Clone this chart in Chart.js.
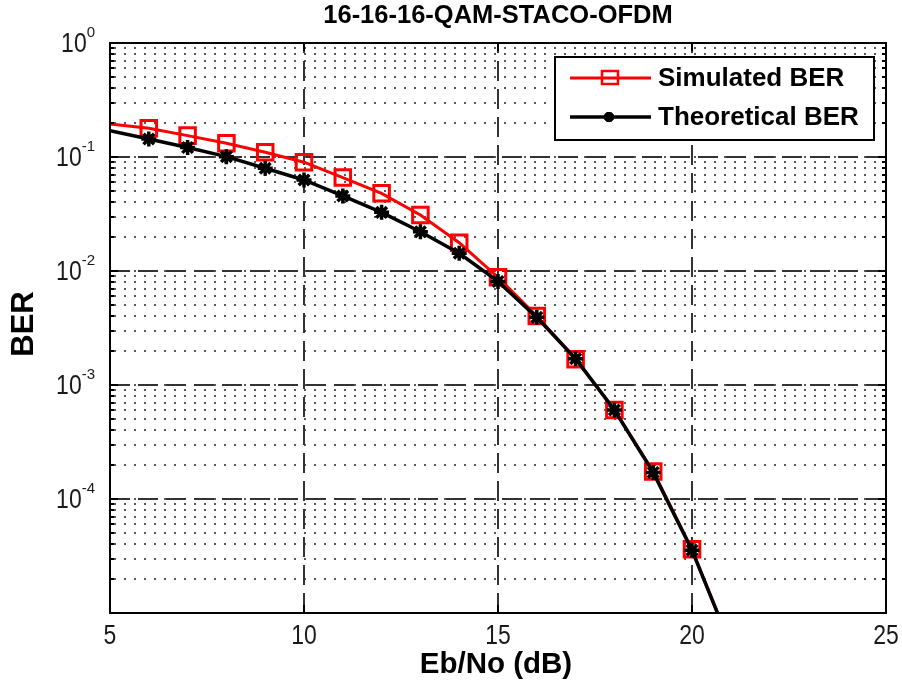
<!DOCTYPE html>
<html>
<head>
<meta charset="utf-8">
<script src="https://cdn.jsdelivr.net/npm/chart.js@4/dist/chart.umd.min.js"></script>
<style>
  html, body { margin: 0; padding: 0; background: #ffffff; }
  #wrap { width: 902px; height: 686px; }
</style>
</head>
<body>
<div id="wrap"><canvas id="c" width="902" height="686"></canvas></div>
<script>
// ---- data ----
const chartTitle = '16-16-16-QAM-STACO-OFDM';
const xLabel = 'Eb/No (dB)';
const yLabel = 'BER';
const seriesNames = ['Simulated BER', 'Theoretical BER'];
const ebNo = [5, 6, 7, 8, 9, 10, 11, 12, 13, 14, 15, 16, 17, 18, 19, 20, 21];
const simulatedBER = [0.195, 0.179, 0.154, 0.132, 0.110, 0.090, 0.066, 0.048, 0.031, 0.0177, 0.0088, 0.00403, 0.00168, 0.000604, 0.000174, 3.62e-5, 5.0e-6];
const theoreticalBER = [0.170, 0.144, 0.121, 0.1007, 0.0796, 0.0629, 0.0455, 0.0327, 0.0221, 0.0143, 0.0081, 0.00392, 0.0017, 0.000604, 0.000171, 3.55e-5, 5.2e-6];
const xTicks = [5, 10, 15, 20, 25];
const yTickExponents = [0, -1, -2, -3, -4];

const FONT = '"Liberation Sans", Arial, Helvetica, sans-serif';

const framePlugin = {
  id: 'matlabFrame',
  beforeDatasetsDraw(chart) {
    const ctx = chart.ctx, a = chart.chartArea;
    const xs = chart.scales.x, ys = chart.scales.y;
    ctx.save();
    ctx.beginPath(); ctx.rect(a.left, a.top, a.right - a.left, a.bottom - a.top); ctx.clip();
    // minor dotted grid (k * 10^n), including decades
    ctx.strokeStyle = 'rgba(70,70,70,0.9)';
    ctx.lineWidth = 2;
    ctx.setLineDash([2, 8]);
    for (let n = -5; n <= -1; n++) {
      for (let k = 1; k <= 9; k++) {
        const v = k * Math.pow(10, n);
        if (v <= ys.min || v >= ys.max) continue;
        const y = Math.round(ys.getPixelForValue(v));
        ctx.beginPath(); ctx.moveTo(a.left + 4, y); ctx.lineTo(a.right, y); ctx.stroke();
      }
    }
    // major dashed grid
    ctx.strokeStyle = '#333333';
    ctx.setLineDash([20, 8]);
    for (const e of yTickExponents) {
      const v = Math.pow(10, e);
      if (v <= ys.min || v >= ys.max) continue;
      const y = Math.round(ys.getPixelForValue(v));
      ctx.beginPath(); ctx.moveTo(a.left, y); ctx.lineTo(a.right, y); ctx.stroke();
    }
    for (const t of xTicks) {
      if (t <= xs.min || t >= xs.max) continue;
      const x = Math.round(xs.getPixelForValue(t));
      ctx.beginPath(); ctx.moveTo(x, a.bottom); ctx.lineTo(x, a.top); ctx.stroke();
    }
    ctx.restore();
  },
  afterDraw(chart) {
    const ctx = chart.ctx, a = chart.chartArea;
    const xs = chart.scales.x, ys = chart.scales.y;
    ctx.save();
    ctx.setLineDash([]);
    // axis box
    ctx.strokeStyle = '#000'; ctx.lineWidth = 2;
    ctx.strokeRect(a.left, a.top, a.right - a.left, a.bottom - a.top);
    // ticks
    ctx.beginPath();
    for (let n = -5; n <= 0; n++) {
      for (let k = 1; k <= 9; k++) {
        const v = k * Math.pow(10, n);
        if (v < ys.min || v > ys.max) continue;
        const y = Math.round(ys.getPixelForValue(v));
        const len = k === 1 ? 8 : 4;
        ctx.moveTo(a.left, y); ctx.lineTo(a.left + len, y);
        ctx.moveTo(a.right, y); ctx.lineTo(a.right - len, y);
      }
    }
    for (const t of xTicks) {
      const x = Math.round(xs.getPixelForValue(t));
      ctx.moveTo(x, a.bottom); ctx.lineTo(x, a.bottom - 8);
      ctx.moveTo(x, a.top); ctx.lineTo(x, a.top + 8);
    }
    ctx.stroke();

    // y tick labels 10^e
    ctx.fillStyle = '#1a1a1a';
    for (const e of yTickExponents) {
      const v = Math.pow(10, e);
      const y = ys.getPixelForValue(v);
      const exp = String(e);
      ctx.font = '15px ' + FONT;
      const ew = ctx.measureText(exp).width;
      const right = a.left - 15;
      ctx.textBaseline = 'middle';
      ctx.textAlign = 'left';
      ctx.fillText(exp, right - ew, y - 10);
      ctx.save();
      ctx.font = '28px ' + FONT;
      const bw = ctx.measureText('10').width * 0.82;
      ctx.translate(right - ew - bw, y + 1);
      ctx.scale(0.82, 1);
      ctx.fillText('10', 0, 0);
      ctx.restore();
    }
    // x tick labels
    ctx.textAlign = 'center'; ctx.textBaseline = 'middle';
    for (const t of xTicks) {
      const x = xs.getPixelForValue(t);
      ctx.save();
      ctx.font = '28px ' + FONT;
      ctx.translate(x, a.bottom + 23);
      ctx.scale(0.82, 1);
      ctx.fillText(String(t), 0, 0);
      ctx.restore();
    }
    // titles
    ctx.fillStyle = '#000';
    ctx.font = 'bold 25.5px ' + FONT;
    ctx.textAlign = 'center'; ctx.textBaseline = 'middle';
    ctx.fillText(chartTitle, (a.left + a.right) / 2, 16);
    ctx.font = 'bold 29.5px ' + FONT;
    ctx.fillText(xLabel, (a.left + a.right) / 2 - 2, 665);
    ctx.save();
    ctx.translate(24, 324);
    ctx.rotate(-Math.PI / 2);
    ctx.font = 'bold 31px ' + FONT;
    ctx.fillText(yLabel, 0, 0);
    ctx.restore();

    // legend
    const lx = 555, ly = 57, lw = 319, lh = 83;
    ctx.fillStyle = '#fff';
    ctx.fillRect(lx, ly, lw, lh);
    ctx.strokeStyle = '#000'; ctx.lineWidth = 2;
    ctx.strokeRect(lx, ly, lw, lh);
    const rows = [
      { y: 78, color: '#ff0000', lw: 3, marker: 'rect' },
      { y: 117, color: '#000000', lw: 3.5, marker: 'star' }
    ];
    rows.forEach((r, i) => {
      ctx.strokeStyle = r.color; ctx.lineWidth = r.lw;
      ctx.beginPath(); ctx.moveTo(570, r.y); ctx.lineTo(651, r.y); ctx.stroke();
      if (r.marker === 'rect') {
        ctx.lineWidth = 2.5;
        ctx.strokeRect(602, r.y - 7, 16, 13);
      } else {
        ctx.fillStyle = '#000';
        Chart.helpers.drawPoint(ctx, { pointStyle: 'star', radius: 5, borderWidth: 3 }, 609, r.y);
        ctx.stroke();
      }
      ctx.fillStyle = '#000';
      ctx.font = 'bold 26px ' + FONT;
      ctx.textAlign = 'left'; ctx.textBaseline = 'middle';
      ctx.fillText(seriesNames[i], 658, r.y + 1);
    });
    ctx.restore();
  }
};

const hideEdge = (ctx, r) => (ebNo[ctx.dataIndex] < 6 ? 0 : r);

new Chart(document.getElementById('c'), {
  type: 'line',
  data: {
    datasets: [
      {
        label: seriesNames[0],
        data: ebNo.map((x, i) => ({ x, y: simulatedBER[i] })),
        borderColor: '#ff0000',
        borderWidth: 3,
        pointStyle: 'rect',
        pointRadius: (c) => hideEdge(c, 11),
        pointBorderColor: '#ff0000',
        pointBackgroundColor: 'rgba(0,0,0,0)',
        pointBorderWidth: 3,
        tension: 0,
        clip: 0,
        order: 1
      },
      {
        label: seriesNames[1],
        data: ebNo.map((x, i) => ({ x, y: theoreticalBER[i] })),
        borderColor: '#000000',
        borderWidth: 3.5,
        pointStyle: 'star',
        pointRadius: (c) => hideEdge(c, 7.5),
        pointBorderColor: '#000000',
        pointBackgroundColor: '#000000',
        pointBorderWidth: 3.5,
        tension: 0,
        clip: 0,
        order: 0
      }
    ]
  },
  options: {
    responsive: false,
    animation: false,
    events: [],
    layout: { padding: { left: 0, top: 43, right: 16, bottom: 0 } },
    plugins: { legend: { display: false }, tooltip: { enabled: false }, title: { display: false } },
    scales: {
      x: {
        type: 'linear', min: 5, max: 25,
        grid: { display: false }, border: { display: false },
        ticks: { display: false },
        afterFit(s) { s.height = 73; }
      },
      y: {
        type: 'logarithmic', min: 1e-5, max: 1,
        grid: { display: false }, border: { display: false },
        ticks: { display: false },
        afterFit(s) { s.width = 110; }
      }
    }
  },
  plugins: [framePlugin]
});
</script>
</body>
</html>
